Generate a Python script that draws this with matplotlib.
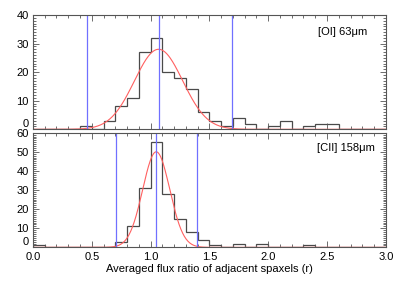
import numpy as np
import matplotlib
matplotlib.use("Agg")
import matplotlib.pyplot as plt
from matplotlib.ticker import MultipleLocator, FuncFormatter

plt.rcParams['font.family'] = ['Liberation Sans', 'DejaVu Sans']

# histogram bins: 0.0 .. 3.0, width 0.1
bin_edges = np.round(np.arange(0, 3.01, 0.1), 2)

oi_counts = [0, 0, 0, 0, 1, 0, 3, 8, 11, 27,
             32, 20, 18, 14, 6, 3, 1, 4, 2, 0,
             1, 3, 0, 1, 2, 2, 0, 0, 0, 0]
cii_counts = [1, 0, 0, 0, 0, 0, 0, 3, 11, 31,
              55, 28, 15, 8, 4, 1, 0, 2, 0, 2,
              0, 0, 0, 1, 0, 0, 0, 0, 0, 0]

# gaussian fit parameters (amplitude, mean, sigma) and marker lines
oi_fit = (28.0, 1.068, 0.205)
cii_fit = (50.0, 1.048, 0.115)
oi_lines = [0.456, 1.068, 1.689]
cii_lines = [0.703, 1.048, 1.391]

labels = ["[OI] 63\u03bcm", "[CII] 158\u03bcm"]

fig = plt.figure(figsize=(4.07, 2.91), dpi=100)
ax1 = fig.add_axes([0.081, 0.5557, 0.867, 0.3928])
ax2 = fig.add_axes([0.081, 0.150, 0.867, 0.394])

xx = np.linspace(0, 3, 600)

panels = [
    (ax1, oi_counts, oi_fit, oi_lines, labels[0], 40, 34.0, 2.84),
    (ax2, cii_counts, cii_fit, cii_lines, labels[1], 60, 51.8, 2.905),
]

# the zero label is drawn by hand, a little higher, like the original
no_zero = FuncFormatter(lambda v, pos: '' if v == 0 else '%d' % v)

for ax, counts, fit, vlines, lab, ymax, ty, tx in panels:
    amp, mu, sig = fit
    ax.stairs(counts, bin_edges, color='#4a4a4a', lw=0.9)
    ax.plot(xx, amp * np.exp(-0.5 * ((xx - mu) / sig) ** 2), color='#ff6060', lw=0.8)
    for v in vlines:
        ax.axvline(v, color='#7070ff', lw=0.9)
    ax.set_xlim(0, 3)
    ax.set_ylim(0, ymax)
    ax.xaxis.set_major_locator(MultipleLocator(0.5))
    ax.xaxis.set_minor_locator(MultipleLocator(0.1))
    ax.yaxis.set_major_locator(MultipleLocator(10))
    ax.yaxis.set_minor_locator(MultipleLocator(1))
    ax.yaxis.set_major_formatter(no_zero)
    ax.tick_params(which='both', direction='in', top=True, right=True,
                   labelsize=8, color='#555555', width=0.6, pad=3)
    ax.tick_params(which='major', length=4)
    ax.tick_params(which='minor', length=2)
    for s in ax.spines.values():
        s.set_color('#555555')
        s.set_linewidth(0.8)
    ax.text(tx, ty, lab, ha='right', va='center', fontsize=8)
    ax.annotate('0', xy=(0, 0), xycoords=('axes fraction', 'data'),
                xytext=(-3, 3.5), textcoords='offset points',
                ha='right', va='center', fontsize=8)

ax1.tick_params(labelbottom=False)
ax2.xaxis.set_major_formatter(plt.FormatStrFormatter('%.1f'))
ax2.set_xlabel("Averaged flux ratio of adjacent spaxels (r)", fontsize=8, labelpad=2)

fig.savefig("out.png", dpi=100)
